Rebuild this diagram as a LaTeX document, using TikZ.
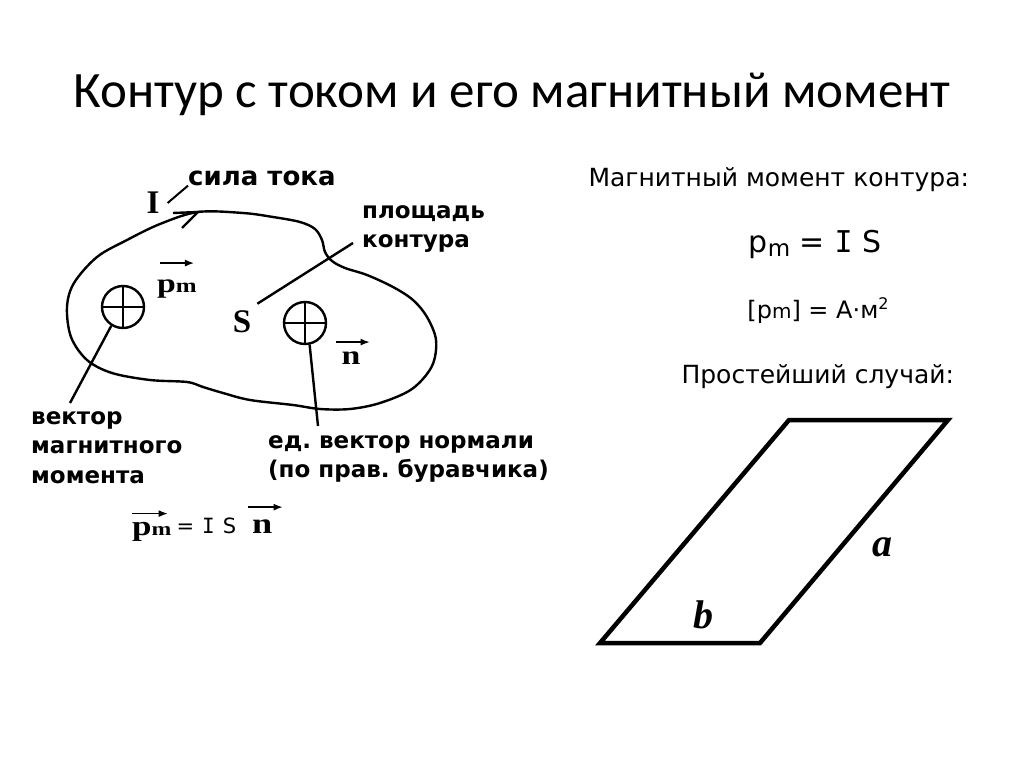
\documentclass[tikz,border=0pt]{standalone}
\usepackage{fontspec}
\setmainfont{DejaVu Sans}
\newfontfamily\titlefont{Carlito}
\newfontfamily\serifbf{Liberation Serif}
\newfontfamily\serifwide[FakeStretch=1.25]{Liberation Serif}
\newfontfamily\barI{DejaVu Sans Mono}
\usetikzlibrary{arrows.meta}
\frenchspacing

\begin{document}
\begin{tikzpicture}[x=1pt,y=-1pt,
  lbl/.style={font=\bfseries\fontsize{23}{29.5}\selectfont,align=left,inner sep=0},
  sym/.style={font=\serifbf\bfseries\fontsize{33}{33}\selectfont,inner sep=0},
  vecsym/.style={font=\serifwide\bfseries\fontsize{27}{27}\selectfont,inner sep=0},
  vecarr/.style={-{Latex[length=9pt,width=7pt]},line width=1.3pt},
  wire/.style={line width=2.4pt},
  ring/.style={draw,circle,line width=2.4pt,minimum size=42pt,inner sep=0}]

\path[use as bounding box,fill=white] (0,0) rectangle (1024,767);

% title
\node[font=\titlefont\fontsize{51}{60}\selectfont,anchor=base] (title) at (512,108) {Контур с током и его магнитный момент};

% the loop with current
\draw[wire] plot[smooth cycle,tension=0.55] coordinates {(198,212) (243,213) (273,217) (300,222) (315,229) (322,240) (325,252) (332,261) (345,268) (367,275) (393,287) (413,300) (427,317) (436,340) (432,366) (412,389) (380,403) (350,409) (320,409) (293,405) (250,400) (223,393) (203,387) (187,382) (150,380) (112,373) (87,360) (71,337) (67,307) (74,283) (97,257) (127,240) (160,224)};
\coordinate (tip) at (198,212);
\draw[wire] (173,213) -- (tip) -- (182,228);

\node[sym] (I) at (153,203) {I};
\node[lbl,font=\bfseries\fontsize{26}{30}\selectfont,anchor=west] (sila) at (188,178) {сила тока};
\draw[line width=2pt] ([xshift=8pt]I.east) to (sila.south west);

% the two vectors into the page
\node[ring] (c1) at (123,307) {};
\draw[wire] (c1.north) to (c1.south);
\draw[wire] (c1.west) to (c1.east);
\node[ring] (c2) at (305,323) {};
\draw[wire] (c2.north) to (c2.south);
\draw[wire] (c2.west) to (c2.east);

\node[vecsym,anchor=base west] (pm) at (157,292) {p{\fontsize{20}{20}\selectfont m}};
\draw[vecarr] ([xshift=3pt,yshift=16pt]pm.north west) to ([xshift=-3pt,yshift=16pt]pm.north east);

\node[sym] (S) at (242,322) {S};
\node[lbl,anchor=north west] (area) at (362,205) {площадь\\контура};
\coordinate (areaend) at (353,243);
\draw[wire] ([xshift=6pt,yshift=7pt]S.north east) to (areaend);

\node[vecsym,anchor=base] (n) at (351,364) {n};
\draw[vecarr] ([xshift=-5pt,yshift=9pt]n.north west) to ([xshift=9pt,yshift=9pt]n.north east);

% labels below
\node[lbl,anchor=north west] (vek) at (31,411) {вектор\\магнитного\\момента};
\coordinate (vekend) at (70,403);
\draw[wire] (c1.-122) to (vekend);

\node[lbl,anchor=north west] (ed) at (268,435) {ед. вектор нормали\\(по прав. буравчика)};
\coordinate (edend) at (318,426);
\draw[wire] (c2.-78) to (edend);

% formula at the bottom
\node[vecsym,font=\serifwide\bfseries\fontsize{28}{28}\selectfont,anchor=base west] (eqp) at (132,535) {p{\fontsize{19}{19}\selectfont m}};
\node[font=\fontsize{21}{21}\selectfont,anchor=base west] (eqm) at (173,533) {=\hspace{8pt}{\barI I}\hspace{8pt}S};
\node[vecsym,font=\serifwide\bfseries\fontsize{29}{29}\selectfont,anchor=base west] (eqn) at (252,533) {n};
\draw[vecarr] ([yshift=8pt]eqp.north west) to ([xshift=-4pt,yshift=8pt]eqp.north east);
\draw[vecarr] ([xshift=-4pt,yshift=12pt]eqn.north west) to ([xshift=10pt,yshift=12pt]eqn.north east);

% right column
\node[font=\fontsize{25}{30}\selectfont,anchor=base west] (momhead) at (585,187) {Магнитный момент контура:};
\node[font=\fontsize{30}{36}\selectfont,anchor=base] (pmis) at (815,252) {p\raisebox{-4pt}{\fontsize{23}{23}\selectfont m} = {\barI I} S};
\node[font=\fontsize{24}{28}\selectfont,anchor=base] (unit) at (818,318) {[p{\fontsize{20}{20}\selectfont m}] = A·м\raisebox{9pt}{\fontsize{16}{16}\selectfont 2}};
\node[font=\fontsize{25}{30}\selectfont,anchor=base west] (simple) at (678,383) {Простейший случай:};

% simplest case
\draw[line width=4.5pt,line join=miter] (789,420) -- (948,420) -- (760,643) -- (600,643) -- cycle;
\node[font=\serifbf\bfseries\itshape\fontsize{40}{40}\selectfont] (sidea) at (882,547) {a};
\node[font=\serifbf\bfseries\itshape\fontsize{40}{40}\selectfont] (sideb) at (703,615) {b};

\end{tikzpicture}
\end{document}
